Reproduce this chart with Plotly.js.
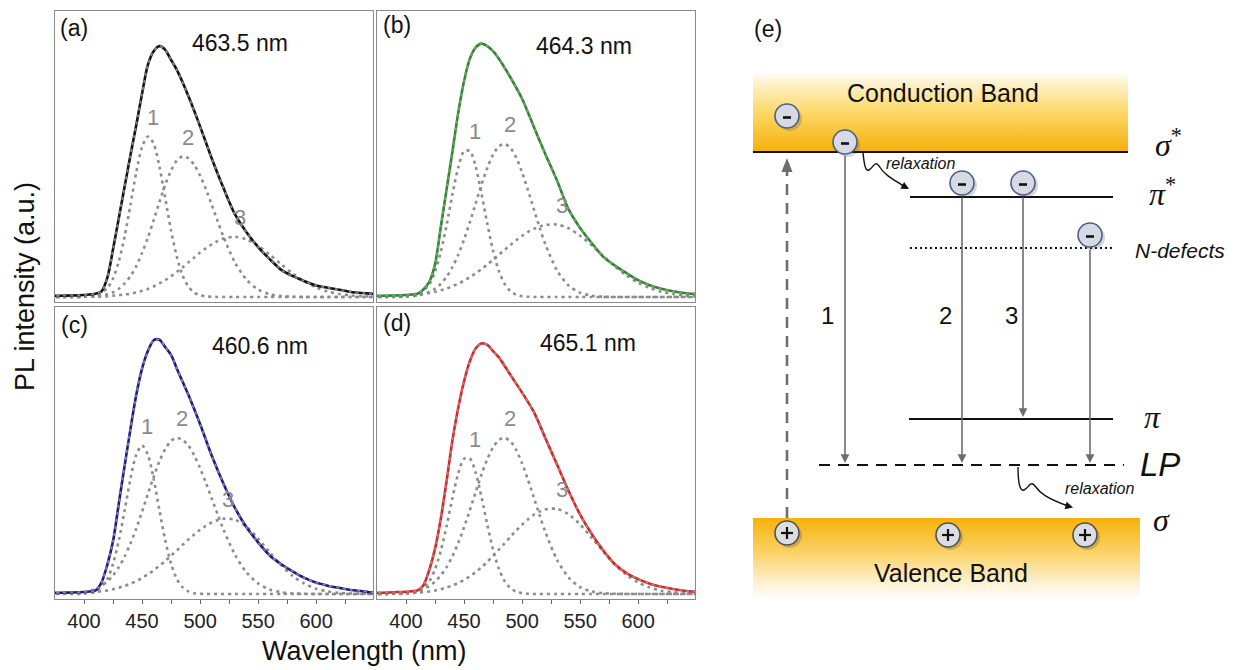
<!DOCTYPE html>
<html>
<head>
<meta charset="utf-8">
<script src="https://cdn.plot.ly/plotly-3.0.1.min.js"></script>
<style>
  html, body { margin: 0; padding: 0; background: #ffffff; }
  #chart { width: 1239px; height: 670px; }
</style>
</head>
<body>
<div id="chart"></div>
<script>
const W = 1239, H = 670;

// ---- PL spectra (normalised intensity) ----
const specWl = [370,380,390,400,405,410,415,420,425,430,435,440,445,450,455,460,465,470,475,480,
                490,500,510,520,530,540,550,560,570,580,590,600,610,620,630,640,650];
const specA = [0.004,0.005,0.006,0.008,0.010,0.013,0.022,0.075,0.19,0.315,0.44,0.565,0.685,0.81,0.925,0.98,1.0,0.985,0.945,0.905,
               0.80,0.68,0.553,0.436,0.33,0.258,0.199,0.151,0.108,0.083,0.063,0.046,0.037,0.029,0.020,0.016,0.012];
const specB = [0.004,0.005,0.006,0.008,0.010,0.013,0.03,0.06,0.13,0.28,0.43,0.58,0.735,0.86,0.95,0.995,1.01,1.0,0.98,0.95,
               0.875,0.79,0.68,0.57,0.465,0.35,0.275,0.215,0.16,0.125,0.095,0.067,0.047,0.033,0.023,0.016,0.012];
const specC = [0.004,0.005,0.006,0.008,0.010,0.014,0.045,0.115,0.21,0.36,0.51,0.655,0.79,0.895,0.965,1.008,1.01,0.98,0.95,0.895,
               0.79,0.675,0.55,0.44,0.342,0.265,0.205,0.153,0.118,0.089,0.064,0.045,0.033,0.024,0.016,0.011,0.005];
const specD = [0.004,0.005,0.007,0.009,0.011,0.014,0.035,0.095,0.18,0.30,0.45,0.61,0.74,0.845,0.925,0.975,0.995,0.99,0.965,0.94,
               0.87,0.80,0.724,0.62,0.515,0.41,0.315,0.238,0.172,0.118,0.083,0.059,0.041,0.029,0.020,0.013,0.009];

// ---- fitted components 1, 2, 3 ----
const compWl = [370,380,390,400,410,420,425,430,435,440,445,450,455,460,465,470,475,480,485,490,
                495,500,505,510,515,520,530,540,550,560,570,580,590,600,610,620,630,640,650];
const compA1 = [0,0,0,0.001,0.005,0.035,0.074,0.142,0.242,0.367,0.496,0.597,0.640,0.611,0.519,0.394,0.265,0.160,0.085,0.041,
                0.017,0.007,0.002,0.001,0,0,0,0,0,0,0,0,0,0,0,0,0,0,0];
const compA2 = [0,0,0,0.001,0.003,0.011,0.019,0.033,0.054,0.083,0.123,0.175,0.237,0.306,0.379,0.447,0.504,0.544,0.560,0.553,
                0.526,0.484,0.430,0.368,0.304,0.242,0.138,0.069,0.030,0.011,0.004,0.001,0,0,0,0,0,0,0];
const compA3 = [0,0,0,0.001,0.001,0.003,0.005,0.007,0.010,0.013,0.018,0.025,0.032,0.042,0.054,0.067,0.083,0.100,0.118,0.138,
                0.157,0.177,0.194,0.210,0.223,0.233,0.240,0.230,0.204,0.169,0.130,0.093,0.062,0.038,0.022,0.012,0.006,0.003,0.001];
const compB1 = [0,0,0,0.001,0.009,0.050,0.101,0.181,0.288,0.409,0.516,0.581,0.582,0.520,0.413,0.293,0.185,0.104,0.052,0.023,
                0.009,0.003,0.001,0,0,0,0,0,0,0,0,0,0,0,0,0,0,0,0];
const compB2 = [0,0,0,0.002,0.006,0.020,0.033,0.052,0.081,0.119,0.168,0.229,0.298,0.373,0.447,0.514,0.567,0.601,0.610,0.594,
                0.555,0.497,0.427,0.352,0.278,0.211,0.107,0.046,0.017,0.005,0.001,0,0,0,0,0,0,0,0];
const compB3 = [0.001,0.001,0.002,0.005,0.009,0.016,0.021,0.027,0.034,0.043,0.053,0.065,0.079,0.094,0.111,0.129,0.148,0.168,0.188,0.207,
                0.226,0.244,0.259,0.271,0.281,0.287,0.289,0.274,0.244,0.206,0.163,0.122,0.086,0.057,0.036,0.021,0.012,0.006,0.003];
const compC1 = [0,0,0,0.001,0.010,0.059,0.120,0.213,0.332,0.457,0.553,0.590,0.553,0.457,0.332,0.213,0.120,0.059,0.026,0.010,
                0.003,0.001,0,0,0,0,0,0,0,0,0,0,0,0,0,0,0,0,0];
const compC2 = [0,0.001,0.002,0.007,0.020,0.049,0.074,0.107,0.149,0.200,0.260,0.327,0.397,0.465,0.527,0.576,0.608,0.620,0.612,0.589,
                0.550,0.500,0.442,0.380,0.318,0.258,0.157,0.086,0.042,0.018,0.007,0.002,0.001,0,0,0,0,0,0];
const compC3 = [0,0.001,0.002,0.004,0.008,0.014,0.019,0.025,0.032,0.041,0.051,0.064,0.078,0.094,0.112,0.131,0.152,0.173,0.195,0.216,
                0.236,0.255,0.271,0.284,0.293,0.299,0.295,0.267,0.220,0.165,0.114,0.071,0.041,0.021,0.010,0.004,0.002,0.001,0];
const compD1 = [0,0,0,0.001,0.009,0.050,0.098,0.172,0.271,0.381,0.479,0.537,0.538,0.482,0.386,0.276,0.176,0.100,0.051,0.023,
                0.009,0.003,0.001,0,0,0,0,0,0,0,0,0,0,0,0,0,0,0,0];
const compD2 = [0,0,0.001,0.004,0.011,0.031,0.049,0.074,0.107,0.150,0.203,0.265,0.333,0.404,0.474,0.535,0.582,0.612,0.620,0.606,
                0.571,0.519,0.455,0.385,0.314,0.247,0.137,0.066,0.027,0.010,0.003,0.001,0,0,0,0,0,0,0];
const compD3 = [0,0,0.001,0.002,0.005,0.010,0.014,0.019,0.026,0.034,0.044,0.056,0.070,0.087,0.106,0.128,0.151,0.176,0.201,0.227,
                0.252,0.275,0.296,0.314,0.327,0.336,0.338,0.317,0.276,0.223,0.168,0.117,0.076,0.046,0.026,0.013,0.007,0.003,0.001];

const panelTags   = ['(a)', '(b)', '(c)', '(d)'];
const peakLabels  = ['463.5 nm', '464.3 nm', '460.6 nm', '465.1 nm'];
const compNames   = ['1', '2', '3'];
const tickVals    = [400, 450, 500, 550, 600];
const minorVals   = [425, 475, 525, 575, 625];

const spectra    = [specA, specB, specC, specD];
const components = [[compA1, compA2, compA3], [compB1, compB2, compB3],
                    [compC1, compC2, compC3], [compD1, compD2, compD3]];
const lineColors = ['#111111', '#2a8a2a', '#1b1b88', '#e02222'];

// ---- energy-level scheme (panel e), in layout pixels ----
const bandLeft = 753, cbRight = 1128, vbRight = 1140;
const levelSigmaStar = 152, levelPiStar = 197, levelNDef = 248, levelPi = 419, levelLP = 465, levelVB = 518;
const electronX = [787, 845, 962, 1023, 1090];
const electronY = [116, 142, 183, 183, 235];
const holeX = [787, 948, 1085];
const holeY = [533, 535, 535];
const transitionX    = [845, 962, 1023, 1090];
const transitionFrom = [154, 196, 196, 248];
const transitionTo   = [463, 463, 417, 463];
const transitionTags = ['1', '2', '3'];
const transitionTagX = [827, 945, 1011];

const px = x => x / W;
const py = y => 1 - y / H;

const font = 'Liberation Sans, Arial, Helvetica, sans-serif';
const serif = 'Liberation Serif, Times New Roman, serif';

const traces = [];
const annotations = [];
const layout = {
  width: W, height: H,
  margin: {l: 0, r: 0, t: 0, b: 0},
  paper_bgcolor: '#ffffff', plot_bgcolor: 'rgba(0,0,0,0)',
  showlegend: false,
  font: {family: font, color: '#111'},
  shapes: [],
  annotations: annotations
};

// centred text helper
const label = (x, y, xref, yref, text, size, extra) =>
  annotations.push(Object.assign({x, y, xref, yref, text, showarrow: false,
    xanchor: 'center', yanchor: 'middle', font: {size, color: '#111', family: font}}, extra || {}));

const colsPx = [[55, 373], [377, 695]];
const rowsPx = [[11, 302], [307, 599]];
const tagPos  = [[74, 28], [397, 25], [74, 325], [397, 323]];
const peakPos = [[240, 43], [584, 46], [260, 346], [588, 343]];

for (let k = 0; k < 4; k++) {
  const n = k + 1;
  const xa = 'x' + n, ya = 'y' + n;
  const col = colsPx[k % 2], row = rowsPx[Math.floor(k / 2)];
  const bottom = k >= 2;

  layout['xaxis' + n] = {
    domain: [px(col[0]), px(col[1])], anchor: ya,
    range: [375, 649], showgrid: false, zeroline: false,
    showline: true, mirror: true, linecolor: '#8a8a8a', linewidth: 1.2,
    tickmode: 'array', tickvals: tickVals,
    ticks: bottom ? 'outside' : '', ticklen: 4, tickcolor: '#666',
    showticklabels: bottom,
    tickfont: {size: 20, color: '#222', family: font},
    minor: bottom ? {tickmode: 'array', tickvals: minorVals, ticks: 'outside', ticklen: 4, tickcolor: '#666'} : undefined
  };
  layout['yaxis' + n] = {
    domain: [py(row[1]), py(row[0])], anchor: xa,
    range: [-0.02, 1.14], showgrid: false, zeroline: false,
    showline: true, mirror: true, linecolor: '#8a8a8a', linewidth: 1.2,
    ticks: '', showticklabels: false
  };

  // fitted components
  components[k].forEach((c, j) => {
    traces.push({
      x: compWl, y: c, xaxis: xa, yaxis: ya, mode: 'lines', hoverinfo: 'skip',
      line: {color: '#8c8c8c', width: 2.6, dash: '3px,4px', shape: 'spline', smoothing: 0.8}
    });
    let im = 0;
    c.forEach((v, i) => { if (v > c[im]) im = i; });
    label(compWl[im], c[im], xa, ya, compNames[j], 22,
      {xshift: 5, yshift: 19, font: {size: 22, color: '#8a8a8a', family: font}});
  });

  // measured spectrum
  traces.push({
    x: specWl, y: spectra[k], xaxis: xa, yaxis: ya, mode: 'lines', hoverinfo: 'skip',
    line: {color: lineColors[k], width: 2.6, shape: 'spline', smoothing: 0.8}
  });
  // cumulative fit drawn over it
  traces.push({
    x: specWl, y: spectra[k], xaxis: xa, yaxis: ya, mode: 'lines', hoverinfo: 'skip',
    line: {color: 'rgba(150,150,150,0.9)', width: 1.8, dash: '3px,4px', shape: 'spline', smoothing: 0.8}
  });

  label(px(tagPos[k][0]), py(tagPos[k][1]), 'paper', 'paper', panelTags[k], 23);
  label(px(peakPos[k][0]), py(peakPos[k][1]), 'paper', 'paper', peakLabels[k], 23);
}

label(px(25), py(287), 'paper', 'paper', 'PL intensity (a.u.)', 27, {textangle: -90});
label(px(364), py(651), 'paper', 'paper', 'Wavelength (nm)', 27);

// ---- panel (e): energy diagram on a pixel-scaled hidden axis pair ----
layout.xaxis5 = {domain: [px(740), 1], range: [740, 1239], anchor: 'y5', visible: false, fixedrange: true};
layout.yaxis5 = {domain: [0, 1], range: [670, 0], anchor: 'x5', visible: false, fixedrange: true};

// conduction and valence bands with vertical gradients
traces.push({
  x: [bandLeft, cbRight, cbRight, bandLeft, bandLeft], y: [72, 72, levelSigmaStar, levelSigmaStar, 72],
  xaxis: 'x5', yaxis: 'y5', mode: 'lines', fill: 'toself', line: {width: 0}, hoverinfo: 'skip',
  fillgradient: {type: 'vertical', start: 72, stop: levelSigmaStar,
    colorscale: [[0, '#ffffff'], [0.12, '#fef3d2'], [0.5, '#fcd867'], [1, '#f6b00a']]}
});
traces.push({
  x: [bandLeft, vbRight, vbRight, bandLeft, bandLeft], y: [levelVB, levelVB, 600, 600, levelVB],
  xaxis: 'x5', yaxis: 'y5', mode: 'lines', fill: 'toself', line: {width: 0}, hoverinfo: 'skip',
  fillgradient: {type: 'vertical', start: levelVB, stop: 600,
    colorscale: [[0, '#f6b20a'], [0.4, '#fbd060'], [0.8, '#fef2d4'], [1, '#ffffff']]}
});

const S = layout.shapes;
const e5 = {xref: 'x5', yref: 'y5'};
const line = (x0, y0, x1, y1, color, width, dash) =>
  S.push(Object.assign({type: 'line', x0, y0, x1, y1, line: {color, width, dash: dash || 'solid'}}, e5));

// excitation (dashed, upward)
line(787, levelVB, 787, 172, '#6e6e6e', 2.6, '11px,8px');
S.push(Object.assign({type: 'path', path: 'M 781.5 172 L 787 158 L 792.5 172 Z',
  fillcolor: '#6e6e6e', line: {width: 0}}, e5));

// levels
line(bandLeft, levelSigmaStar, cbRight, levelSigmaStar, '#111', 2.2);
line(910, levelPiStar, 1113, levelPiStar, '#111', 2.2);
line(910, levelNDef, 1112, levelNDef, '#111', 2.2, '2px,3px');
line(909, levelPi, 1113, levelPi, '#111', 2.2);
line(819, levelLP, 1124, levelLP, '#111', 2.2, '11px,8px');

// relaxation squiggles
S.push(Object.assign({type: 'path',
  path: 'M 863 153 C 864 162, 865 172, 869 170 C 873 168, 875 160, 879 166 C 883 173, 890 178, 904 186',
  line: {color: '#111', width: 1.4}, fillcolor: 'rgba(0,0,0,0)'}, e5));
S.push(Object.assign({type: 'path',
  path: 'M 1018 467 C 1018 478, 1019 492, 1024 490 C 1029 488, 1030 480, 1035 486 C 1040 493, 1046 498, 1068 506',
  line: {color: '#111', width: 1.4}, fillcolor: 'rgba(0,0,0,0)'}, e5));

// electrons and holes
const R = 12;
electronX.forEach((x, i) => {
  const y = electronY[i];
  S.push(Object.assign({type: 'circle', x0: x - R + 2, x1: x + R + 3, y0: y - R + 2, y1: y + R + 3,
    fillcolor: 'rgba(70,70,70,0.22)', line: {width: 0}}, e5));
  S.push(Object.assign({type: 'circle', x0: x - R, x1: x + R, y0: y - R, y1: y + R,
    fillcolor: '#d6dae5', line: {color: '#4d5d84', width: 1.6}}, e5));
  line(x - 4, y + 1.5, x + 4, y + 1.5, '#111', 2.6);
});
holeX.forEach((x, i) => {
  const y = holeY[i];
  S.push(Object.assign({type: 'circle', x0: x - R + 2, x1: x + R + 3, y0: y - R + 2, y1: y + R + 3,
    fillcolor: 'rgba(70,70,70,0.25)', line: {width: 0}}, e5));
  S.push(Object.assign({type: 'circle', x0: x - R, x1: x + R, y0: y - R, y1: y + R,
    fillcolor: '#dcdde2', line: {color: '#505050', width: 1.6}}, e5));
  line(x - 6, y, x + 6, y, '#111', 2.2);
  line(x, y - 6, x, y + 6, '#111', 2.2);
});

// radiative transitions
transitionX.forEach((x, i) => {
  annotations.push({x: x, y: transitionTo[i], ax: x, ay: transitionFrom[i],
    xref: 'x5', yref: 'y5', axref: 'x5', ayref: 'y5', text: '', showarrow: true,
    arrowhead: 2, arrowsize: 1.1, arrowwidth: 1.6, arrowcolor: '#6e6e6e'});
});
transitionTags.forEach((t, i) => label(transitionTagX[i], 315, 'x5', 'y5', t, 24));

// arrow tips of the relaxation paths
annotations.push({x: 909, y: 189, ax: 900, ay: 184, xref: 'x5', yref: 'y5', axref: 'x5', ayref: 'y5',
  text: '', showarrow: true, arrowhead: 2, arrowsize: 1.1, arrowwidth: 1.4, arrowcolor: '#111'});
annotations.push({x: 1073, y: 507.5, ax: 1064, ay: 505, xref: 'x5', yref: 'y5', axref: 'x5', ayref: 'y5',
  text: '', showarrow: true, arrowhead: 2, arrowsize: 1.1, arrowwidth: 1.4, arrowcolor: '#111'});

const schemeText = [
  {t: '(e)', x: 768, y: 29, size: 23, fam: font},
  {t: 'Conduction Band', x: 943, y: 93, size: 25, fam: font},
  {t: 'Valence Band', x: 951, y: 573, size: 25, fam: font},
  {t: '<i>relaxation</i>', x: 920, y: 163, size: 16, fam: font},
  {t: '<i>relaxation</i>', x: 1099, y: 488, size: 16, fam: font},
  {t: '<i>σ</i><sup>*</sup>', x: 1168, y: 143, size: 32, fam: serif},
  {t: '<i>π</i><sup>*</sup>', x: 1162, y: 192, size: 32, fam: serif},
  {t: '<i>N-defects</i>', x: 1180, y: 250, size: 21, fam: font},
  {t: '<i>π</i>', x: 1152, y: 417, size: 32, fam: serif},
  {t: '<i>LP</i>', x: 1160, y: 464, size: 33, fam: font},
  {t: '<i>σ</i>', x: 1161, y: 520, size: 32, fam: serif}
];
schemeText.forEach(s => label(s.x, s.y, 'x5', 'y5', s.t, s.size,
  {font: {size: s.size, color: '#111', family: s.fam}}));

Plotly.newPlot('chart', traces, layout, {displayModeBar: false, staticPlot: true});
</script>
</body>
</html>
